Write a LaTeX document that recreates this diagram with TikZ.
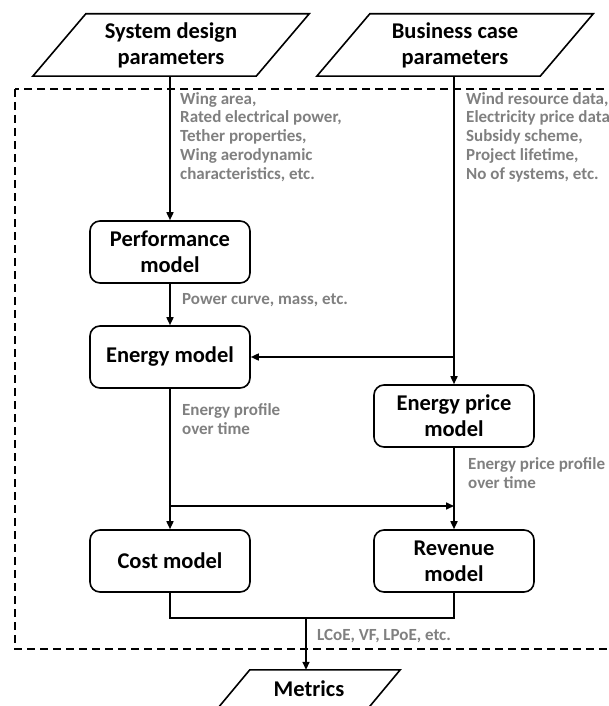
\documentclass[tikz,border=0pt]{standalone}
\usepackage{fontspec}
\setmainfont{Carlito}
\usetikzlibrary{arrows.meta}

\begin{document}
\begin{tikzpicture}[x=1pt,y=-1pt]
			\tikzstyle{model}=[draw,line width=1.6pt,rounded corners=10pt,minimum width=160pt,minimum height=62pt,align=center,inner sep=2pt,font=\fontsize{22.5}{26}\selectfont\bfseries]
			\tikzstyle{param}=[minimum width=223pt,minimum height=62pt,align=center,inner sep=0pt,font=\fontsize{22.5}{26}\selectfont\bfseries]
			\tikzstyle{note}=[anchor=base west,align=left,inner sep=0pt,text=gray,font=\fontsize{17}{18.7}\selectfont\bfseries]
			\tikzstyle{flow}=[line width=1.6pt,-{Triangle[length=8pt,width=7pt]}]
			\useasboundingbox (0,0) rectangle (609,706);
			% frame round the models
			\draw[line width=1.2pt,dash pattern=on 8pt off 5pt] (15,89) rectangle (640,649);
			% inputs and output
			\node[param] (sys) at (171,45) {System design\\parameters};
			\node[param] (biz) at (455,45) {Business case\\parameters};
			\node[param,minimum width=150pt,minimum height=38pt] (metrics) at (309,689) {Metrics};
			\foreach \p/\s in {sys/26.5,biz/26.5,metrics/16}
				\draw[line width=1.6pt,line join=miter] ([xshift=-\s pt]\p.south west) -- ([xshift=\s pt]\p.north west) -- ([xshift=\s pt]\p.north east) -- ([xshift=-\s pt]\p.south east) -- cycle;
			% models
			\node[model] (perf) at (170,252) {Performance\\model};
			\node[model] (energy) at (170,357) {Energy model};
			\node[model] (price) at (454,416) {Energy price\\model};
			\node[model] (cost) at (170,561) {Cost model};
			\node[model] (revenue) at (454,561) {Revenue\\model};
			\coordinate (jbiz) at (454,357);
			\coordinate (jsplit) at (170,506);
			\coordinate (jmerge) at (306,618);
			% connectors
			\draw[flow] (sys.south -| perf.north) -- (perf.north);
			\draw[flow] (perf) -- (energy);
			\draw[flow] (biz.south -| price.north) -- (price.north);
			\draw[flow] (jbiz) -- (energy.east);
			\draw[flow] (energy) -- (cost);
			\draw[flow] (jsplit) -- (jsplit -| price.south);
			\draw[flow] (price) -- (revenue);
			\draw[line width=1.6pt] (cost.south) |- (jmerge) -| (revenue.south);
			\draw[flow] (jmerge) -- (jmerge |- metrics.north);
			% labels (base is the last line)
			\node[note] (sysdata) at (180,179) {Wing area,\\Rated electrical power,\\Tether properties,\\Wing aerodynamic\\characteristics, etc.};
			\node[note] (bizdata) at (466,179) {Wind resource data,\\Electricity price data,\\Subsidy scheme,\\Project lifetime,\\No of systems, etc.};
			\node[note] (perfdata) at (182,304) {Power curve, mass, etc.};
			\node[note] (energydata) at (182,434) {Energy profile\\over time};
			\node[note] (pricedata) at (468,488) {Energy price profile\\over time};
			\node[note] (metricdata) at (317,640) {LCoE, VF, LPoE, etc.};
\end{tikzpicture}
\end{document}
